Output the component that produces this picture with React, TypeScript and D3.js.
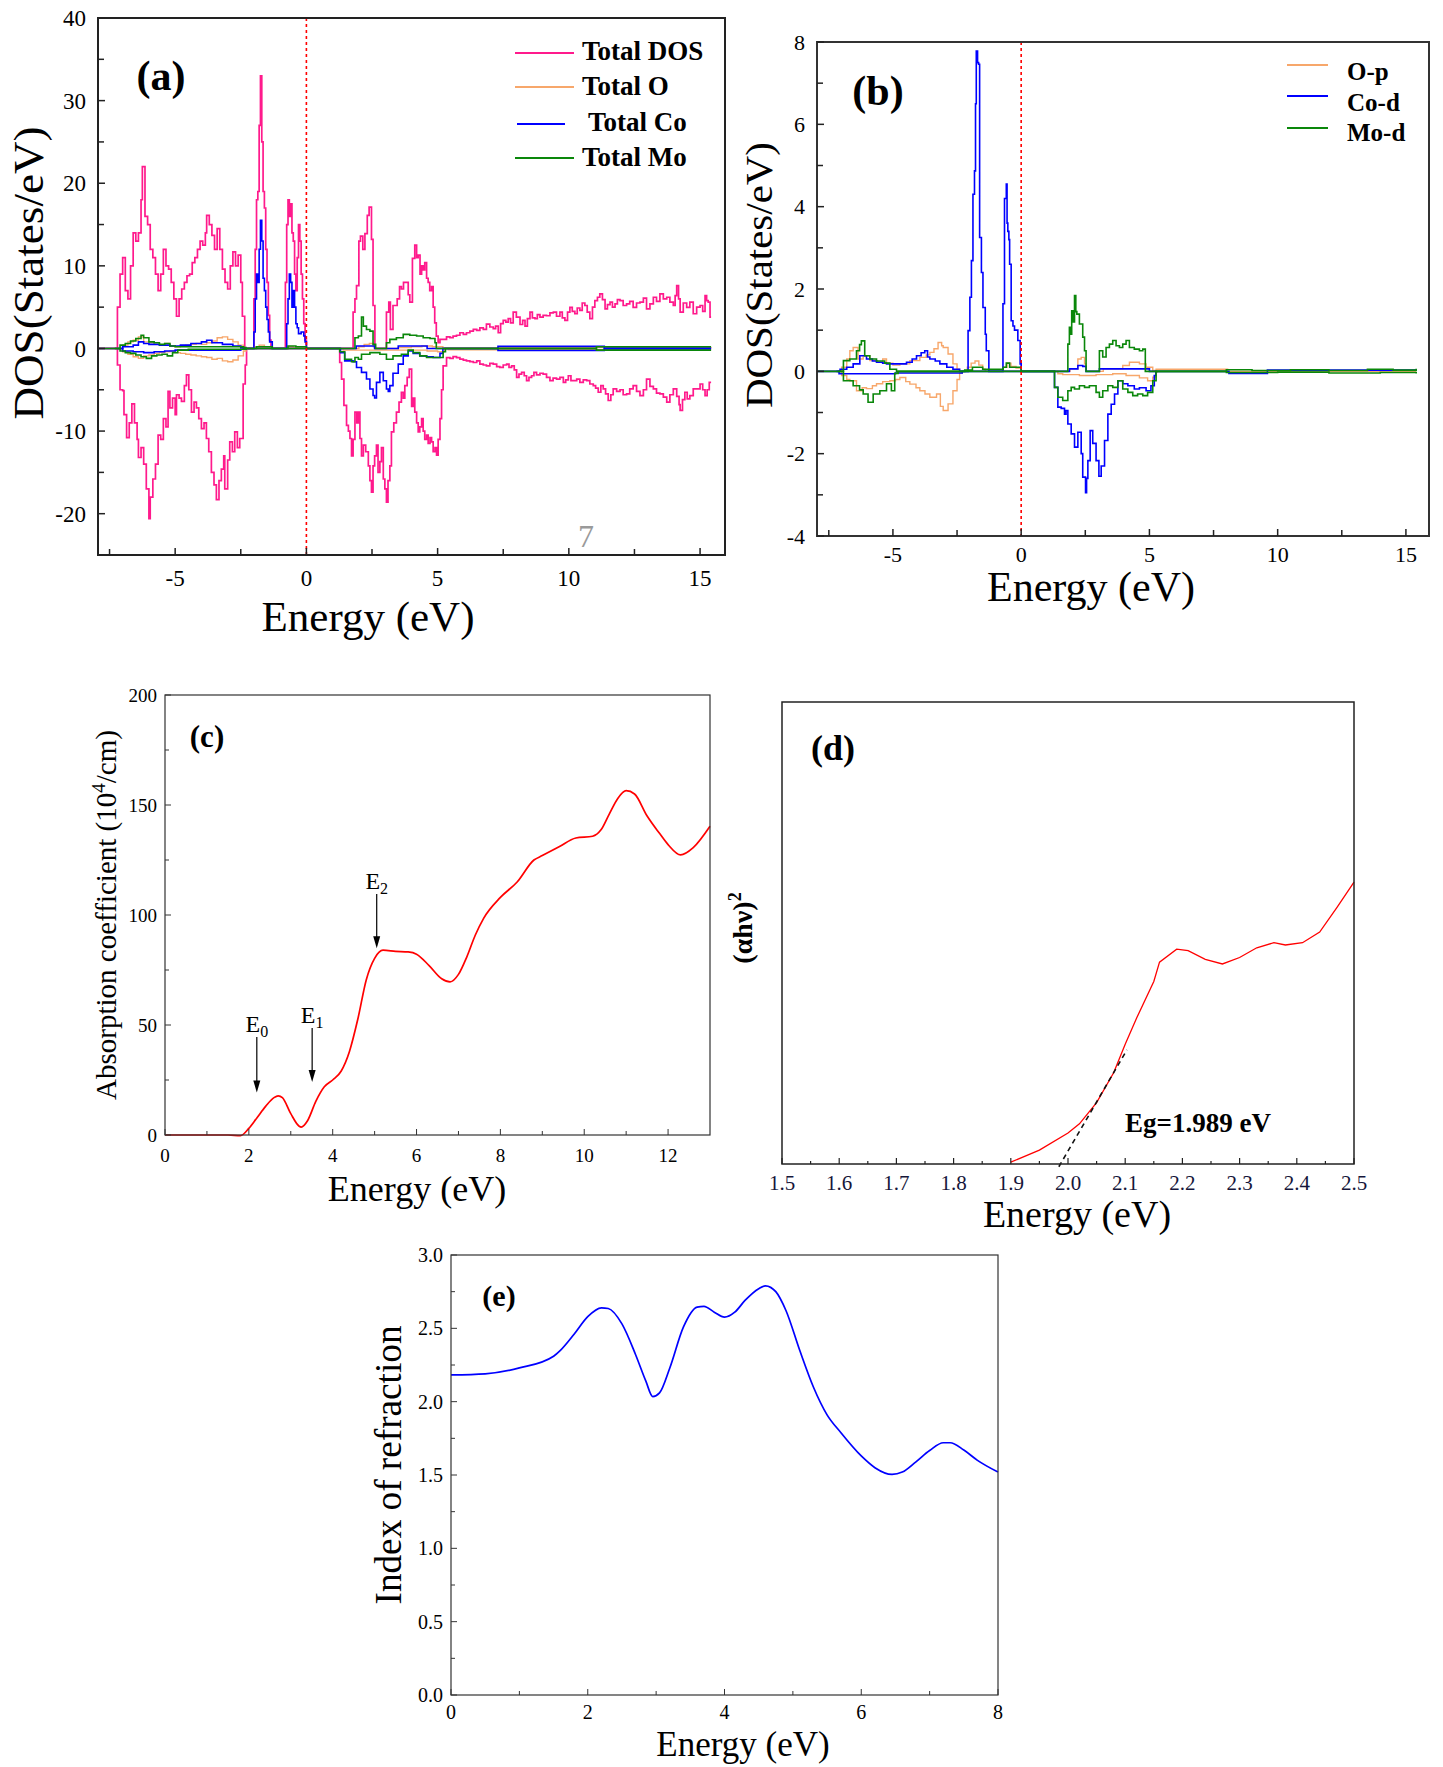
import React from 'react';
import * as d3 from 'd3';

type P = [number, number];
const SERIF = '"Liberation Serif", "Times New Roman", serif';

// ---------------- Panel (a): total DOS ----------------
const A_TDOS_UP: P[] = [[-7.94,0],[-7.3,0],[-7.2,5],[-7.1,9],[-7.0,11],[-6.9,7],[-6.8,6],[-6.7,10],[-6.6,14],[-6.5,13],[-6.4,14],[-6.3,18],[-6.25,22],[-6.15,16],[-6.05,15],[-5.95,12],[-5.85,11],[-5.75,9],[-5.65,7],[-5.55,9],[-5.45,12],[-5.35,10],[-5.25,9.6],[-5.15,8],[-5.05,6],[-4.95,3.9],[-4.85,6],[-4.75,7.2],[-4.65,8],[-4.55,8.8],[-4.45,9],[-4.35,10.4],[-4.25,11],[-4.15,12],[-4.05,13],[-3.95,12.5],[-3.85,14],[-3.8,16.1],[-3.7,15],[-3.6,13.7],[-3.5,12],[-3.4,14.5],[-3.3,12],[-3.2,9.6],[-3.1,8],[-3.0,7.2],[-2.9,10],[-2.8,11.7],[-2.7,10],[-2.6,11.3],[-2.5,8],[-2.44,3.9],[-2.35,0],[-2.05,0],[-2.0,6],[-1.95,12],[-1.9,18],[-1.85,19],[-1.8,27],[-1.75,33],[-1.7,25],[-1.65,19],[-1.6,17],[-1.55,12],[-1.5,8],[-1.45,4],[-1.4,1],[-1.35,0],[-0.85,0],[-0.8,8],[-0.75,15],[-0.7,18],[-0.65,16],[-0.6,17.5],[-0.55,14],[-0.5,13],[-0.45,9],[-0.4,7],[-0.35,11],[-0.3,15],[-0.25,13],[-0.2,9],[-0.15,6],[-0.1,3],[-0.05,1],[0,0],[1.75,0],[1.78,4.4],[1.85,6],[1.91,7.6],[2.0,13],[2.06,13.6],[2.15,12],[2.23,13.9],[2.32,16.1],[2.39,17.1],[2.48,13.2],[2.54,5.2],[2.61,0],[2.99,0],[3.05,4.4],[3.14,5.6],[3.2,2.3],[3.3,5.2],[3.46,6],[3.55,7.5],[3.62,7.2],[3.7,8],[3.79,8],[3.88,6.5],[3.94,5.6],[4.04,10.9],[4.13,12.5],[4.2,11],[4.26,11.3],[4.33,9],[4.39,10],[4.45,9.5],[4.51,10.4],[4.58,8.5],[4.64,8],[4.7,7],[4.77,7.5],[4.83,5],[4.89,3.1],[4.95,1.5],[5.02,0.7],[5.09,1.1],[5.21,1.1],[5.34,1.4],[5.47,1.3],[5.59,1.5],[5.72,1.6],[5.85,1.9],[5.98,1.7],[6.1,1.9],[6.23,2.1],[6.36,2.3],[6.49,2.2],[6.61,2.5],[6.74,2.3],[6.86,2.95],[6.99,2.6],[7.12,2.4],[7.21,2.7],[7.31,1.9],[7.4,3.0],[7.5,3.4],[7.6,3.2],[7.69,3.6],[7.78,3.1],[7.88,4.4],[8.0,3.8],[8.14,2.9],[8.24,3.4],[8.33,2.7],[8.42,3.6],[8.52,4.4],[8.61,3.7],[8.71,3.6],[8.8,4.1],[8.9,3.8],[9.02,4.0],[9.15,3.96],[9.28,4.3],[9.41,4.4],[9.53,3.9],[9.66,4.4],[9.75,3.7],[9.85,3.4],[9.95,4.4],[10.04,4.97],[10.13,4.5],[10.23,4.2],[10.32,4.9],[10.42,4.6],[10.51,5.5],[10.61,5.2],[10.7,4.4],[10.8,3.6],[10.9,5.0],[10.99,5.8],[11.09,6.2],[11.18,6.6],[11.28,5.9],[11.38,4.8],[11.47,5.3],[11.57,5.6],[11.66,5.0],[11.76,5.4],[11.85,5.9],[11.95,5.8],[12.07,5.2],[12.2,5.4],[12.32,5.7],[12.45,4.97],[12.58,5.5],[12.71,5.6],[12.84,6.1],[12.96,4.8],[13.09,5.4],[13.22,6.2],[13.34,5.7],[13.47,6.6],[13.6,6.0],[13.73,6.2],[13.85,5.6],[13.98,5.2],[14.05,6.4],[14.11,7.6],[14.18,6.0],[14.24,4.4],[14.36,5.5],[14.49,4.97],[14.61,5.6],[14.74,4.2],[14.87,5.0],[15.0,5.2],[15.1,4.5],[15.19,6.4],[15.25,5.8],[15.31,5.6],[15.38,3.8],[15.42,3.8]];

const A_TDOS_DN: P[] = [[-7.3,0],[-7.2,-2],[-7.1,-5],[-7.0,-5.1],[-6.95,-8],[-6.85,-10.8],[-6.75,-9],[-6.65,-6.7],[-6.55,-9],[-6.45,-11],[-6.4,-13.2],[-6.3,-12],[-6.2,-14],[-6.1,-17],[-6.0,-20.6],[-5.95,-18],[-5.85,-15.8],[-5.75,-14],[-5.65,-10.5],[-5.55,-11],[-5.45,-8.5],[-5.35,-9.5],[-5.27,-5.2],[-5.2,-7.2],[-5.1,-6],[-5.0,-8],[-4.95,-5.6],[-4.85,-6],[-4.76,-6.4],[-4.65,-4.5],[-4.57,-3.2],[-4.48,-5],[-4.38,-7.7],[-4.28,-6.5],[-4.19,-7.2],[-4.1,-8.5],[-4.0,-9.7],[-3.9,-9],[-3.81,-10.9],[-3.72,-12.5],[-3.62,-15],[-3.52,-16.5],[-3.43,-18.3],[-3.33,-16],[-3.24,-14.6],[-3.15,-13],[-3.11,-17],[-3.0,-13.5],[-2.92,-11.3],[-2.82,-12.5],[-2.73,-10.1],[-2.63,-12],[-2.54,-10.9],[-2.41,-4.3],[-2.33,-2],[-2.28,0],[1.22,0],[1.27,-1.7],[1.34,-3.7],[1.43,-6.9],[1.53,-9.3],[1.6,-10],[1.66,-10.9],[1.72,-13],[1.78,-11],[1.85,-7.7],[1.92,-9],[1.98,-7.7],[2.04,-10.9],[2.1,-13],[2.17,-11.7],[2.26,-12.5],[2.36,-14.2],[2.42,-16],[2.48,-17.4],[2.54,-14.2],[2.6,-13],[2.67,-11.7],[2.73,-15],[2.8,-13.7],[2.86,-12],[2.93,-15.8],[2.99,-17],[3.05,-18.6],[3.11,-16],[3.18,-14.2],[3.24,-10.1],[3.33,-9],[3.43,-7.7],[3.53,-6.5],[3.62,-5.3],[3.69,-6],[3.75,-4.5],[3.84,-3.5],[3.92,-2.5],[4.01,-7],[4.07,-6],[4.13,-7.7],[4.2,-9],[4.26,-10.1],[4.32,-9.5],[4.39,-8.5],[4.45,-10],[4.51,-11],[4.58,-10.5],[4.64,-11.5],[4.71,-10.8],[4.77,-11.3],[4.83,-12.5],[4.9,-12],[4.96,-12.9],[5.02,-11],[5.09,-8.5],[5.15,-5],[5.21,-2.1],[5.34,-1.1],[5.47,-1.2],[5.59,-1.0],[5.72,-1.1],[5.85,-1.3],[5.98,-1.4],[6.1,-1.5],[6.23,-1.6],[6.36,-1.7],[6.49,-1.5],[6.61,-1.9],[6.74,-2.0],[6.86,-2.1],[6.99,-1.8],[7.12,-1.9],[7.25,-2.2],[7.37,-2.3],[7.5,-2.0],[7.63,-1.9],[7.72,-2.3],[7.82,-2.1],[7.92,-2.6],[8.01,-3.5],[8.1,-3.1],[8.2,-2.9],[8.3,-3.3],[8.39,-3.9],[8.48,-3.5],[8.58,-3.3],[8.67,-2.9],[8.77,-3.2],[8.9,-3.0],[9.02,-3.1],[9.15,-3.5],[9.28,-3.9],[9.4,-3.6],[9.53,-3.7],[9.66,-3.5],[9.79,-4.1],[9.88,-3.8],[9.98,-3.3],[10.08,-3.9],[10.17,-3.9],[10.3,-3.7],[10.42,-4.1],[10.55,-3.8],[10.68,-3.9],[10.8,-4.3],[10.93,-4.5],[11.02,-4.8],[11.12,-5.3],[11.22,-4.5],[11.31,-4.9],[11.4,-5.5],[11.5,-6.3],[11.6,-5.6],[11.69,-4.9],[11.82,-5.2],[11.95,-5.0],[12.07,-5.6],[12.2,-5.5],[12.32,-4.9],[12.45,-4.5],[12.58,-5.2],[12.71,-5.7],[12.84,-5.0],[12.96,-3.7],[13.09,-4.6],[13.22,-4.9],[13.34,-5.4],[13.47,-5.5],[13.6,-5.9],[13.73,-6.5],[13.85,-5.6],[13.98,-4.9],[14.11,-5.8],[14.2,-6.8],[14.24,-7.5],[14.33,-6.2],[14.42,-5.3],[14.51,-6.1],[14.61,-5.7],[14.74,-4.9],[14.87,-4.9],[15.0,-4.3],[15.1,-5.0],[15.19,-5.7],[15.27,-5.0],[15.35,-4.1],[15.42,-4.1]];

const A_O_UP: P[] = [[-7.94,0],[-7.2,0],[-7.0,0.4],[-6.8,0.8],[-6.6,1.0],[-6.4,1.4],[-6.2,0.8],[-6.0,0.7],[-5.8,0.5],[-5.6,0.4],[-5.4,0.6],[-5.2,0.3],[-5.0,0.2],[-4.8,0.3],[-4.6,0.4],[-4.4,0.5],[-4.2,0.6],[-4.0,0.5],[-3.8,0.7],[-3.6,0.9],[-3.4,1.3],[-3.2,1.4],[-3.0,1.1],[-2.8,0.8],[-2.6,0.4],[-2.4,0.1],[-2.3,0],[-2.0,0.2],[-1.8,0.4],[-1.6,0.2],[-1.4,0],[-0.7,0.2],[-0.5,0.1],[-0.3,0.1],[0,0],[2.0,0.2],[2.2,0.5],[2.4,0.6],[2.55,0.2],[2.6,0],[3.5,0.1],[4.0,0.2],[4.4,0.3],[4.8,0.2],[5.2,0.1],[15.42,0.15]];
const A_O_DN: P[] = [[-7.2,0],[-7.0,-0.4],[-6.8,-0.7],[-6.6,-1.0],[-6.4,-1.2],[-6.2,-0.9],[-6.0,-0.8],[-5.8,-0.6],[-5.6,-0.5],[-5.4,-0.4],[-5.2,-0.3],[-5.0,-0.5],[-4.8,-0.6],[-4.6,-0.7],[-4.4,-0.8],[-4.2,-0.9],[-4.0,-1.0],[-3.8,-1.1],[-3.6,-1.3],[-3.4,-1.2],[-3.2,-1.5],[-3.0,-1.6],[-2.8,-1.4],[-2.6,-0.9],[-2.4,-0.3],[-2.3,0],[1.4,-0.2],[2.0,-0.2],[3.0,-0.2],[4.0,-0.2],[4.6,-0.3],[5.0,-0.4],[5.25,0],[5.4,-0.15],[15.42,-0.15]];

const A_CO_UP: P[] = [[-7.94,0],[-7.2,0],[-7.0,0.2],[-6.6,0.4],[-6.4,0.8],[-6.2,0.6],[-6.0,0.5],[-5.6,0.4],[-5.2,0.3],[-4.8,0.4],[-4.4,0.6],[-4.0,0.8],[-3.8,1.0],[-3.6,0.7],[-3.2,0.5],[-2.8,0.3],[-2.5,0.1],[-2.4,0],[-2.05,0],[-2.0,2],[-1.95,6],[-1.9,9],[-1.85,8],[-1.8,12],[-1.75,15.5],[-1.7,13],[-1.65,8.5],[-1.6,7],[-1.55,5],[-1.5,3.5],[-1.45,2],[-1.4,0.8],[-1.3,0],[-0.8,0],[-0.75,3],[-0.7,6],[-0.65,9],[-0.6,8],[-0.55,5],[-0.5,7],[-0.45,5],[-0.4,3],[-0.35,2.5],[-0.3,1.8],[-0.2,2],[-0.1,1.5],[-0.05,0.8],[0,0],[1.8,0],[1.9,0.3],[2.5,0.3],[2.6,0],[3.5,0.3],[4.4,0.3],[4.6,0],[7.25,0],[7.3,0.25],[11.3,0.25],[11.35,0.05],[15.42,0.05]];
const A_CO_DN: P[] = [[-7.2,0],[-7.0,-0.3],[-6.6,-0.4],[-6.2,-0.5],[-5.8,-0.4],[-5.4,-0.3],[-5.0,-0.2],[-2.5,-0.1],[-2.3,0],[1.2,0],[1.3,-0.5],[1.46,-1.5],[1.78,-1.6],[1.91,-2.3],[2.1,-2.9],[2.29,-3.7],[2.42,-4.9],[2.54,-5.7],[2.6,-6],[2.67,-4.1],[2.8,-2.9],[2.93,-3.9],[3.05,-4.9],[3.12,-5.2],[3.18,-4.5],[3.3,-3],[3.5,-1.9],[3.69,-0.9],[3.88,-0.3],[4.07,-0.6],[4.32,-0.9],[4.58,-1.0],[4.83,-1.1],[5.09,-0.6],[5.2,0],[7.25,0],[7.3,-0.25],[11.3,-0.25],[11.35,-0.05],[15.42,-0.05]];

const A_MO_UP: P[] = [[-7.94,0],[-7.3,0],[-7.1,0.4],[-6.9,0.6],[-6.7,0.9],[-6.5,1.2],[-6.3,1.6],[-6.2,1.3],[-6.0,0.8],[-5.8,0.7],[-5.6,0.5],[-5.4,0.6],[-5.2,0.3],[-5.0,0.2],[-2.4,0.1],[-2.3,0],[-1.9,0.2],[-1.5,0.2],[-1.3,0],[-0.7,0.3],[-0.4,0.2],[0,0],[1.8,0],[1.85,1.3],[1.98,1.5],[2.1,3.8],[2.17,2.7],[2.29,2.3],[2.42,2.1],[2.54,0.5],[2.64,0],[3.0,0],[3.05,0.7],[3.18,1.1],[3.43,1.3],[3.69,1.7],[3.94,1.6],[4.2,1.5],[4.45,1.3],[4.71,1.2],[4.9,0.7],[4.95,0],[11.0,0],[11.05,0.2],[15.42,0.2]];
const A_MO_DN: P[] = [[-7.3,0],[-7.1,-0.3],[-6.9,-0.5],[-6.7,-0.6],[-6.5,-0.8],[-6.3,-1.0],[-6.1,-1.2],[-5.9,-0.9],[-5.7,-0.8],[-5.5,-0.7],[-5.3,-0.9],[-5.1,-0.5],[-4.9,-0.2],[-4.5,-0.1],[-2.3,0],[1.22,0],[1.27,-0.4],[1.46,-1.3],[1.72,-1.6],[1.85,-1.1],[1.98,-1.3],[2.1,-0.7],[2.42,-0.5],[2.8,-0.7],[3.05,-1.3],[3.3,-0.9],[3.62,-0.7],[3.88,-0.2],[4.07,-0.5],[4.32,-0.9],[4.58,-1.1],[4.96,-1.1],[5.21,-0.4],[5.3,0],[11.0,0],[11.05,-0.2],[15.42,-0.2]];

const A_LEGEND = ['Total DOS', 'Total O', 'Total Co', 'Total Mo'];
const A_X_TICKS = [-5, 0, 5, 10, 15];
const A_X_MINOR = [-7.5, -2.5, 2.5, 7.5, 12.5];
const A_Y_TICKS = [-20, -10, 0, 10, 20, 30, 40];
const A_Y_MINOR = [-15, -5, 5, 15, 25, 35];

// ---------------- Panel (b): partial DOS ----------------
const B_OP_UP: P[] = [[-7.96,0],[-7.2,0],[-7.0,0.1],[-6.8,0.3],[-6.68,0.5],[-6.55,0.58],[-6.36,0.3],[-6.16,0.38],[-5.9,0.26],[-5.6,0.22],[-5.4,0.3],[-5.25,0.2],[-5.0,0.15],[-4.73,0.18],[-4.34,0.26],[-3.95,0.34],[-3.7,0.4],[-3.56,0.46],[-3.4,0.55],[-3.24,0.7],[-3.1,0.62],[-3.04,0.58],[-2.85,0.42],[-2.66,0.18],[-2.5,0.05],[-2.4,0],[-2.1,0.1],[-1.95,0.2],[-1.8,0.25],[-1.65,0.15],[-1.5,0.05],[-1.4,0],[-0.7,0.1],[-0.55,0.2],[-0.4,0.12],[-0.2,0.08],[0,0],[1.9,0.06],[2.21,0.3],[2.34,0.34],[2.47,0.18],[2.53,0],[3.2,0.06],[3.96,0.14],[4.22,0.22],[4.61,0.18],[4.87,0.1],[5.13,0.02],[5.26,0.05],[8.0,0.05],[8.05,0],[15.4,0]];
const B_OP_DN: P[] = [[-7.2,0],[-7.0,-0.1],[-6.8,-0.2],[-6.68,-0.23],[-6.42,-0.47],[-6.2,-0.4],[-6.03,-0.42],[-5.8,-0.35],[-5.64,-0.3],[-5.4,-0.25],[-5.12,-0.23],[-4.9,-0.2],[-4.73,-0.15],[-4.5,-0.25],[-4.34,-0.31],[-4.1,-0.4],[-3.95,-0.47],[-3.75,-0.55],[-3.56,-0.63],[-3.3,-0.55],[-3.15,-0.85],[-3.04,-0.95],[-2.85,-0.79],[-2.66,-0.47],[-2.5,-0.2],[-2.4,-0.05],[-2.3,0],[1.43,-0.06],[1.62,-0.08],[2.27,-0.1],[2.92,-0.08],[3.57,-0.06],[4.09,-0.1],[4.61,-0.16],[4.93,-0.23],[5.13,-0.14],[5.26,-0.02],[5.3,0]];
const B_CO_UP: P[] = [[-7.96,0],[-7.2,0],[-7.06,0.05],[-6.8,0.1],[-6.55,0.18],[-6.29,0.38],[-6.03,0.3],[-5.8,0.25],[-5.64,0.22],[-5.4,0.2],[-5.25,0.18],[-4.86,0.18],[-4.47,0.22],[-4.25,0.3],[-4.08,0.38],[-3.9,0.45],[-3.76,0.5],[-3.65,0.35],[-3.56,0.3],[-3.35,0.25],[-3.17,0.18],[-2.9,0.1],[-2.66,0.05],[-2.4,0],[-2.1,0],[-2.07,0.99],[-2.0,1.8],[-1.94,2.69],[-1.88,4.3],[-1.82,4.87],[-1.78,6.5],[-1.75,7.78],[-1.7,7.5],[-1.66,7.46],[-1.62,3.25],[-1.55,2.4],[-1.49,1.55],[-1.4,0.9],[-1.36,0.5],[-1.26,0],[-0.78,0],[-0.71,1.64],[-0.65,4.2],[-0.58,4.55],[-0.55,3.6],[-0.52,3.4],[-0.48,3.2],[-0.45,2.6],[-0.39,1.23],[-0.32,1.1],[-0.26,1.0],[-0.13,0.75],[-0.04,0.18],[0,0],[1.88,0.06],[2.21,0.14],[2.4,0.12],[2.53,0],[3.05,0.06],[4.84,0.06],[5.0,0],[8.0,0],[8.1,-0.05],[9.5,-0.05],[9.6,0.03],[15.4,0.03]];
const B_CO_DN: P[] = [[-7.2,0],[-7.1,-0.06],[-5.0,-0.06],[-4.9,-0.04],[-2.4,-0.04],[-2.3,0],[1.24,0],[1.3,-0.39],[1.43,-0.87],[1.56,-0.9],[1.69,-1.04],[1.75,-0.95],[1.82,-1.28],[1.95,-1.52],[2.08,-1.84],[2.21,-1.48],[2.34,-2.0],[2.4,-2.57],[2.51,-2.95],[2.55,-2.6],[2.6,-2.17],[2.69,-1.44],[2.79,-1.75],[2.92,-2.17],[3.03,-2.55],[3.12,-2.3],[3.25,-1.68],[3.38,-1.04],[3.51,-0.8],[3.64,-0.55],[3.77,-0.23],[3.96,-0.3],[4.16,-0.35],[4.41,-0.43],[4.61,-0.4],[4.87,-0.47],[5.06,-0.35],[5.19,-0.1],[5.25,0]];
const B_MO_UP: P[] = [[-7.96,0],[-7.13,0],[-6.93,0.26],[-6.68,0.3],[-6.42,0.5],[-6.3,0.65],[-6.23,0.74],[-6.1,0.38],[-5.9,0.3],[-5.64,0.25],[-5.32,0.2],[-5.12,0.05],[-4.86,0],[-2.2,0.03],[-1.9,0.1],[-1.5,0.05],[-0.7,0.1],[-0.58,0.2],[-0.45,0.1],[0,0],[1.75,0],[1.82,0.66],[1.88,1.07],[1.93,0.9],[1.97,1.47],[2.03,1.2],[2.08,1.84],[2.13,1.45],[2.17,1.39],[2.27,1.15],[2.4,0.83],[2.47,0.5],[2.53,0],[3.01,0],[3.05,0.5],[3.18,0.35],[3.31,0.58],[3.44,0.66],[3.57,0.75],[3.7,0.62],[3.83,0.58],[3.96,0.66],[4.09,0.75],[4.22,0.58],[4.41,0.54],[4.61,0.5],[4.74,0.54],[4.84,0],[7.9,0],[8.0,0.04],[9.0,0.02],[10.5,0.04],[12.0,0.02],[13.5,0.05],[14.5,0.03],[15.4,0.06]];
const B_MO_DN: P[] = [[-7.13,0],[-6.93,-0.23],[-6.55,-0.35],[-6.3,-0.45],[-6.16,-0.55],[-5.97,-0.75],[-5.77,-0.55],[-5.51,-0.47],[-5.25,-0.3],[-5.06,-0.47],[-4.93,-0.05],[-4.8,0],[1.24,0],[1.3,-0.39],[1.43,-0.63],[1.62,-0.71],[1.82,-0.47],[1.95,-0.39],[2.08,-0.43],[2.27,-0.35],[2.47,-0.39],[2.66,-0.35],[2.92,-0.51],[3.05,-0.63],[3.18,-0.47],[3.38,-0.35],[3.57,-0.39],[3.77,-0.23],[3.96,-0.43],[4.16,-0.51],[4.35,-0.59],[4.54,-0.55],[4.74,-0.59],[4.93,-0.51],[5.13,-0.23],[5.26,0],[7.9,0],[8.0,-0.03],[10.0,-0.02],[12.0,-0.04],[14.0,-0.03],[15.4,-0.05]];

const B_LEGEND = ['O-p', 'Co-d', 'Mo-d'];
const B_Y_TICKS = [-4, -2, 0, 2, 4, 6, 8];
const B_Y_MINOR = [-3, -1, 1, 3, 5, 7];

// ---------------- Panel (c): absorption ----------------
const C_E = [0, 1.5, 1.8, 2.0, 2.2, 2.4, 2.6, 2.7, 2.8, 3.0, 3.2, 3.25, 3.4, 3.6, 3.8, 4.0, 4.2, 4.4, 4.6, 4.8, 5.0, 5.2, 5.5, 5.8, 6.0, 6.3, 6.6, 6.8, 7.0, 7.2, 7.4, 7.6, 8.0, 8.4, 8.8, 9.0, 9.4, 9.8, 10.2, 10.4, 10.6, 10.8, 11.0, 11.2, 11.5, 11.8, 12.0, 12.3, 12.6, 13.0];
const C_ALPHA = [0, 0, -0.3, 3, 8, 13, 17, 17.8, 17, 9.7, 4, 3.6, 6.5, 15.4, 21.9, 25, 29, 38, 52.7, 70.5, 80.3, 84, 83.5, 83.2, 82.2, 77, 71, 69.6, 73, 81, 90.8, 98.5, 108, 115, 125, 127, 131, 135, 135.8, 138.7, 146, 153, 156.5, 155, 145, 137, 132, 127.3, 130.6, 140.3];
const C_ARROW_LABELS = ['0', '1', '2'];
const C_ARROW_E = [2.19, 3.51, 5.05];
const C_ARROW_TOP = [44.5, 48.6, 109.5];
const C_ARROW_TIP = [19.3, 24.1, 84.9];

// ---------------- Panel (d): Tauc plot ----------------
const D_E = [1.9, 1.95, 2.0, 2.02, 2.05, 2.08, 2.1, 2.12, 2.15, 2.16, 2.19, 2.21, 2.24, 2.27, 2.3, 2.33, 2.36, 2.38, 2.41, 2.44, 2.47, 2.5];
const D_Y = [0.4, 3, 6.7, 8.7, 13.3, 19.8, 25.9, 31.6, 39.5, 43.7, 46.5, 46.2, 44.3, 43.3, 44.7, 46.8, 47.9, 47.4, 47.9, 50.2, 55.5, 61];
const D_FIT_E = [1.984, 2.103];
const D_FIT_Y = [-0.6, 24.7];
const D_X_TICKS = [1.5, 1.6, 1.7, 1.8, 1.9, 2.0, 2.1, 2.2, 2.3, 2.4, 2.5];
const D_X_MINOR = [1.55, 1.65, 1.75, 1.85, 1.95, 2.05, 2.15, 2.25, 2.35, 2.45];

// ---------------- Panel (e): refractive index ----------------
const E_E = [0, 0.5, 1.0, 1.5, 1.6, 1.8, 2.0, 2.2, 2.3, 2.5, 2.7, 2.85, 2.95, 3.05, 3.2, 3.4, 3.6, 3.7, 3.85, 4.0, 4.15, 4.3, 4.5, 4.6, 4.75, 4.9, 5.1, 5.3, 5.5, 5.7, 6.0, 6.2, 6.45, 6.6, 6.8, 7.0, 7.2, 7.3, 7.5, 7.7, 8.0];
const E_N = [2.182, 2.19, 2.23, 2.31, 2.35, 2.46, 2.58, 2.64, 2.635, 2.53, 2.32, 2.14, 2.035, 2.06, 2.23, 2.51, 2.645, 2.65, 2.61, 2.576, 2.61, 2.69, 2.77, 2.79, 2.75, 2.62, 2.35, 2.10, 1.91, 1.79, 1.63, 1.55, 1.504, 1.52, 1.59, 1.667, 1.72, 1.72, 1.67, 1.60, 1.52];

// ---------------- colours ----------------
const PINK = '#ff1a8c';
const ORANGE = '#f7a76b';
const BLUE = '#0000ff';
const GREEN = '#0a870a';

// ---------------- scales ----------------
const ax = d3.scaleLinear().domain([-7.94, 15.95]).range([98, 725]);
const ay = d3.scaleLinear().domain([-25, 40]).range([555, 18]);
const bx = d3.scaleLinear().domain([-7.96, 15.9]).range([817, 1429]);
const by = d3.scaleLinear().domain([-4, 8]).range([536, 42]);
const cx = d3.scaleLinear().domain([0, 13]).range([165, 710]);
const cy = d3.scaleLinear().domain([0, 200]).range([1135, 695]);
const dx = d3.scaleLinear().domain([1.5, 2.5]).range([782, 1354]);
const dy = d3.scaleLinear().domain([0, 100]).range([1164, 702]);
const ex = d3.scaleLinear().domain([0, 8]).range([451, 998]);
const ey = d3.scaleLinear().domain([0, 3]).range([1695, 1255]);

type Sc = d3.ScaleLinear<number, number>;

function stepPath(sx: Sc, sy: Sc, pts: P[]) {
  return d3.line<P>().x(d => sx(d[0])).y(d => sy(d[1])).curve(d3.curveStepAfter)(pts) || '';
}

function Frame({ sx, sy, sw, stroke }: { sx: Sc; sy: Sc; sw: number; stroke: string }) {
  const [x0, x1] = sx.range();
  const [y0, y1] = sy.range();
  return <rect x={x0} y={Math.min(y0, y1)} width={x1 - x0} height={Math.abs(y0 - y1)} fill="none" stroke={stroke} strokeWidth={sw} />;
}

function Ticks({ sx, sy, xMaj, xMin, yMaj, yMin, len, lenMin, stroke, sw }: any) {
  const yb = sy.range()[0];
  const xl = sx.range()[0];
  const out: any[] = [];
  (xMaj || []).forEach((v: number, i: number) => out.push(<line key={'xM' + i} x1={sx(v)} x2={sx(v)} y1={yb} y2={yb - len} stroke={stroke} strokeWidth={sw} />));
  (xMin || []).forEach((v: number, i: number) => out.push(<line key={'xm' + i} x1={sx(v)} x2={sx(v)} y1={yb} y2={yb - lenMin} stroke={stroke} strokeWidth={sw} />));
  (yMaj || []).forEach((v: number, i: number) => out.push(<line key={'yM' + i} x1={xl} x2={xl + len} y1={sy(v)} y2={sy(v)} stroke={stroke} strokeWidth={sw} />));
  (yMin || []).forEach((v: number, i: number) => out.push(<line key={'ym' + i} x1={xl} x2={xl + lenMin} y1={sy(v)} y2={sy(v)} stroke={stroke} strokeWidth={sw} />));
  return <g>{out}</g>;
}

function XLabels({ sx, vals, y, size, fmt, fill }: any) {
  return <g>{vals.map((v: number, i: number) => (
    <text key={i} x={sx(v)} y={y} fontSize={size} textAnchor="middle" fill={fill || '#000'} fontFamily={SERIF}>{fmt ? fmt(v) : String(v)}</text>
  ))}</g>;
}

function YLabels({ sy, vals, x, size, fmt }: any) {
  return <g>{vals.map((v: number, i: number) => (
    <text key={i} x={x} y={sy(v)} dy="0.35em" fontSize={size} textAnchor="end" fontFamily={SERIF}>{fmt ? fmt(v) : String(v)}</text>
  ))}</g>;
}

function VTitle({ x, y, size, text, len, bold }: any) {
  return <text transform={`translate(${x},${y}) rotate(-90)`} textAnchor="middle" fontSize={size} fontFamily={SERIF}
    fontWeight={bold ? 'bold' : 'normal'} textLength={len} lengthAdjust={len ? 'spacingAndGlyphs' : undefined}>{text}</text>;
}

export default function App() {
  const aSeries: [P[], string, number][] = [
    [A_TDOS_UP, PINK, 1.7], [A_TDOS_DN, PINK, 1.7],
    [A_O_UP, ORANGE, 1.4], [A_O_DN, ORANGE, 1.4],
    [A_CO_UP, BLUE, 1.6], [A_CO_DN, BLUE, 1.6],
    [A_MO_UP, GREEN, 1.6], [A_MO_DN, GREEN, 1.6],
  ];
  const bSeries: [P[], string, number][] = [
    [B_OP_UP, ORANGE, 1.4], [B_OP_DN, ORANGE, 1.4],
    [B_CO_UP, BLUE, 1.6], [B_CO_DN, BLUE, 1.6],
    [B_MO_UP, GREEN, 1.6], [B_MO_DN, GREEN, 1.6],
  ];
  const aLegColors = [PINK, ORANGE, BLUE, GREEN];
  const aLegLineY = [53, 87, 124, 158];
  const aLegTextY = [60, 95, 131, 166];
  const bLegColors = [ORANGE, BLUE, GREEN];

  const cLine = d3.line<number>().x((_, i) => cx(C_E[i])).y(d => cy(d)).curve(d3.curveMonotoneX)(C_ALPHA) || '';
  const dLine = d3.line<number>().x((_, i) => dx(D_E[i])).y(d => dy(d)).curve(d3.curveLinear)(D_Y) || '';
  const dFit = d3.line<number>().x((_, i) => dx(D_FIT_E[i])).y(d => dy(d))(D_FIT_Y) || '';
  const eLine = d3.line<number>().x((_, i) => ex(E_E[i])).y(d => ey(d)).curve(d3.curveMonotoneX)(E_N) || '';

  return (
    <svg width={1443} height={1767} style={{ position: 'absolute', left: 0, top: 0, background: '#fff' }} fontFamily={SERIF}>
      <rect x={0} y={0} width={1443} height={1767} fill="#fff" />

      {/* ===== (a) ===== */}
      <g>
        {aSeries.map(([pts, col, w], i) => (
          <path key={i} d={stepPath(ax, ay, pts)} fill="none" stroke={col} strokeWidth={w} />
        ))}
        <line x1={ax(0)} x2={ax(0)} y1={ay(40)} y2={ay(-25)} stroke="#ff0000" strokeWidth={1.6} strokeDasharray="3,3" />
        <Frame sx={ax} sy={ay} sw={2} stroke="#222" />
        <Ticks sx={ax} sy={ay} xMaj={A_X_TICKS} xMin={A_X_MINOR} yMaj={A_Y_TICKS} yMin={A_Y_MINOR} len={7} lenMin={6} stroke="#222" sw={1.5} />
        <XLabels sx={ax} vals={A_X_TICKS} y={586} size={23} />
        <YLabels sy={ay} vals={A_Y_TICKS} x={86} size={23} />
        <VTitle x={43} y={273} size={42} text="DOS(States/eV)" len={293} />
        <text x={368} y={631} fontSize={43} textAnchor="middle">Energy (eV)</text>
        <text x={161} y={90} fontSize={42} fontWeight="bold" textAnchor="middle">(a)</text>
        <text x={578} y={547} fontSize={32} fill="#9a9a9a">7</text>
        {A_LEGEND.map((t, i) => (
          <g key={t}>
            <line x1={i === 2 ? 517 : 515} x2={i === 2 ? 565 : 574} y1={aLegLineY[i]} y2={aLegLineY[i]} stroke={aLegColors[i]} strokeWidth={1.8} />
            <text x={i === 2 ? 588 : 582} y={aLegTextY[i]} fontSize={27} fontWeight="bold">{t}</text>
          </g>
        ))}
      </g>

      {/* ===== (b) ===== */}
      <g>
        {bSeries.map(([pts, col, w], i) => (
          <path key={i} d={stepPath(bx, by, pts)} fill="none" stroke={col} strokeWidth={w} />
        ))}
        <line x1={bx(0)} x2={bx(0)} y1={by(8)} y2={by(-4)} stroke="#ff0000" strokeWidth={1.6} strokeDasharray="3,3" />
        <Frame sx={bx} sy={by} sw={2} stroke="#333" />
        <Ticks sx={bx} sy={by} xMaj={A_X_TICKS} xMin={A_X_MINOR} yMaj={B_Y_TICKS} yMin={B_Y_MINOR} len={7} lenMin={6} stroke="#222" sw={1.5} />
        <XLabels sx={bx} vals={A_X_TICKS} y={562} size={22} />
        <YLabels sy={by} vals={B_Y_TICKS} x={805} size={22} />
        <VTitle x={772} y={275} size={38} text="DOS(States/eV)" len={266} />
        <text x={1091} y={601} fontSize={42} textAnchor="middle">Energy (eV)</text>
        <text x={878} y={105} fontSize={42} fontWeight="bold" textAnchor="middle">(b)</text>
        {B_LEGEND.map((t, i) => (
          <g key={t}>
            <line x1={1287} x2={1328} y1={[65, 96, 128][i]} y2={[65, 96, 128][i]} stroke={bLegColors[i]} strokeWidth={1.8} />
            <text x={1347} y={[80, 110.5, 141][i]} fontSize={25} fontWeight="bold">{t}</text>
          </g>
        ))}
      </g>

      {/* ===== (c) ===== */}
      <g>
        <path d={cLine} fill="none" stroke="#ff0000" strokeWidth={1.7} />
        <Frame sx={cx} sy={cy} sw={1.2} stroke="#333" />
        <Ticks sx={cx} sy={cy} xMaj={[0, 2, 4, 6, 8, 10, 12]} xMin={[1, 3, 5, 7, 9, 11]} yMaj={[0, 50, 100, 150, 200]} yMin={[25, 75, 125, 175]} len={6} lenMin={4} stroke="#333" sw={1} />
        <XLabels sx={cx} vals={[0, 2, 4, 6, 8, 10, 12]} y={1162} size={19} />
        <YLabels sy={cy} vals={[0, 50, 100, 150, 200]} x={157} size={19} />
        <text transform={`translate(116,915) rotate(-90)`} textAnchor="middle" fontSize={29}>
          Absorption coefficient (10<tspan fontSize={19} dy={-11}>4</tspan><tspan dy={11}>/cm)</tspan>
        </text>
        <text x={417} y={1201} fontSize={36} textAnchor="middle">Energy (eV)</text>
        <text x={207} y={747} fontSize={31} fontWeight="bold" textAnchor="middle">(c)</text>
        {C_ARROW_E.map((e, i) => {
          const x = cx(e);
          const yt = cy(C_ARROW_TOP[i]);
          const yp = cy(C_ARROW_TIP[i]);
          return (
            <g key={i}>
              <line x1={x} x2={x} y1={yt} y2={yp - 10} stroke="#000" strokeWidth={1.2} />
              <path d={`M${x - 3.5},${yp - 12} L${x + 3.5},${yp - 12} L${x},${yp} Z`} fill="#000" />
              <text x={x} y={yt - 5} fontSize={24} textAnchor="middle">E<tspan fontSize={16} dy={5}>{C_ARROW_LABELS[i]}</tspan></text>
            </g>
          );
        })}
      </g>

      {/* ===== (d) ===== */}
      <g>
        <path d={dLine} fill="none" stroke="#ff0000" strokeWidth={1.3} />
        <path d={dFit} fill="none" stroke="#111" strokeWidth={1.6} strokeDasharray="5,4" />
        <Frame sx={dx} sy={dy} sw={1.5} stroke="#222" />
        <Ticks sx={dx} sy={dy} xMaj={D_X_TICKS} xMin={D_X_MINOR} len={6} lenMin={3} stroke="#222" sw={1.2} />
        <XLabels sx={dx} vals={D_X_TICKS} y={1190} size={21} fmt={(v: number) => v.toFixed(1)} fill="#16163a" />
        <text transform={`translate(752,928) rotate(-90)`} textAnchor="middle" fontSize={28} fontWeight="bold">
          (αhν)<tspan fontSize={18} dy={-11}>2</tspan>
        </text>
        <text x={1077} y={1227} fontSize={38} textAnchor="middle">Energy (eV)</text>
        <text x={833} y={760} fontSize={36} fontWeight="bold" textAnchor="middle">(d)</text>
        <text x={1125} y={1132} fontSize={27} fontWeight="bold">Eg=1.989 eV</text>
      </g>

      {/* ===== (e) ===== */}
      <g>
        <path d={eLine} fill="none" stroke="#0000ff" strokeWidth={1.7} />
        <Frame sx={ex} sy={ey} sw={1.2} stroke="#333" />
        <Ticks sx={ex} sy={ey} xMaj={[0, 2, 4, 6, 8]} xMin={[1, 3, 5, 7]} yMaj={[0, 0.5, 1, 1.5, 2, 2.5, 3]} yMin={[0.25, 0.75, 1.25, 1.75, 2.25, 2.75]} len={6} lenMin={4} stroke="#333" sw={1} />
        <XLabels sx={ex} vals={[0, 2, 4, 6, 8]} y={1719} size={20} />
        <YLabels sy={ey} vals={[0, 0.5, 1, 1.5, 2, 2.5, 3]} x={443} size={20} fmt={(v: number) => v.toFixed(1)} />
        <VTitle x={401} y={1465} size={38} text="Index of refraction" len={279} />
        <text x={743} y={1756} fontSize={35} textAnchor="middle">Energy (eV)</text>
        <text x={499} y={1306} fontSize={30} fontWeight="bold" textAnchor="middle">(e)</text>
      </g>
    </svg>
  );
}
